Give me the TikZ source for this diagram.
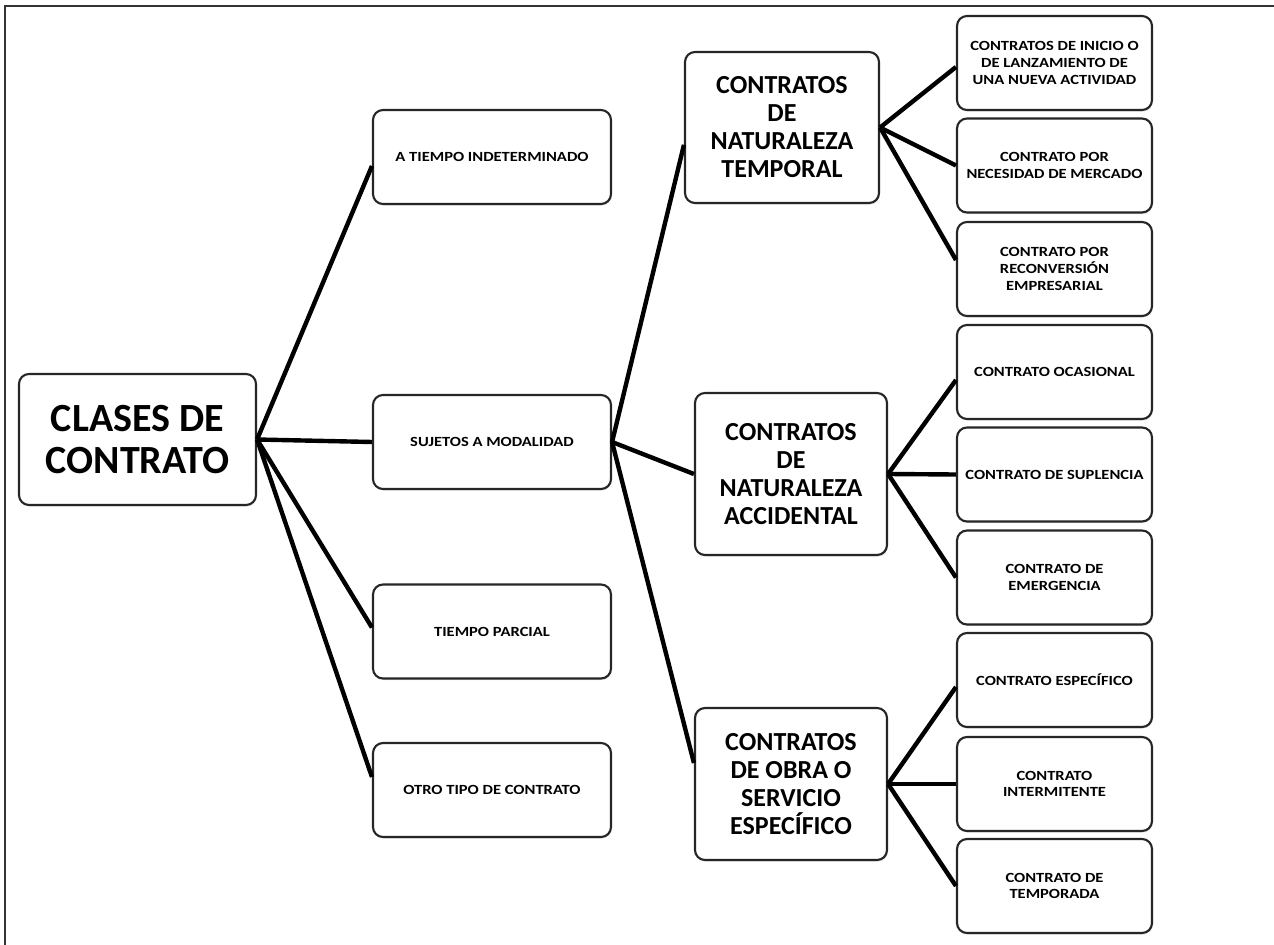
\documentclass[tikz,border=0pt]{standalone}
\usepackage{fontspec}
\setmainfont{Carlito}
\newfontfamily\smallf[FakeStretch=1.18]{Carlito}
\usetikzlibrary{shadows}
\begin{document}
\begin{tikzpicture}[x=0.75pt,y=-0.75pt,
  box/.style={draw=black!85, line width=1.6pt, rounded corners=7.5pt, fill=white, align=center, inner sep=1pt,
    drop shadow={shadow xshift=0.6pt, shadow yshift=-1.2pt, opacity=0.2}},
  rootbox/.style={box, minimum width=177.75pt, minimum height=98.25pt, font=\fontsize{30}{31.5}\selectfont\bfseries},
  midbox/.style={box, minimum width=178.5pt, minimum height=70.5pt, font=\smallf\fontsize{10.5}{12.5}\selectfont\bfseries},
  catbox/.style={box, minimum width=144pt, font=\fontsize{19.5}{21}\selectfont\bfseries},
  leafbox/.style={box, minimum width=146.25pt, minimum height=70.5pt, font=\smallf\fontsize{10.5}{12.5}\selectfont\bfseries},
  link/.style={line width=3.3pt, black}]
\useasboundingbox (0,0) rectangle (1274,945);
\draw[line width=1.5pt, black!80] (5,945) -- (5,6) -- (1274,6);

% root
\node[rootbox] (root) at (137.5,439.5) {CLASES DE\\CONTRATO};

% level 2
\node[midbox] (a) at (492,157) {A TIEMPO INDETERMINADO};
\node[midbox] (b) at (492,442) {SUJETOS A MODALIDAD};
\node[midbox] (c) at (492,631.5) {TIEMPO PARCIAL};
\node[midbox] (d) at (492,790) {OTRO TIPO DE CONTRATO};

% level 3
\node[catbox, minimum width=145.5pt, minimum height=113.25pt] (t) at (782,127.5) {CONTRATOS\\DE\\NATURALEZA\\TEMPORAL};
\node[catbox, minimum height=121.5pt] (acc) at (791,474) {CONTRATOS\\DE\\NATURALEZA\\ACCIDENTAL};
\node[catbox, minimum height=114pt] (obra) at (791,784) {CONTRATOS\\DE OBRA O\\SERVICIO\\ESPECÍFICO};

% level 4
\node[leafbox] (l1) at (1054.5,63) {CONTRATOS DE INICIO O\\DE LANZAMIENTO DE\\UNA NUEVA ACTIVIDAD};
\node[leafbox] (l2) at (1054.5,165.5) {CONTRATO POR\\NECESIDAD DE MERCADO};
\node[leafbox] (l3) at (1054.5,269) {CONTRATO POR\\RECONVERSIÓN\\EMPRESARIAL};
\node[leafbox] (l4) at (1054.5,372) {CONTRATO OCASIONAL};
\node[leafbox] (l5) at (1054.5,474.5) {CONTRATO DE SUPLENCIA};
\node[leafbox] (l6) at (1054.5,577.5) {CONTRATO DE\\EMERGENCIA};
\node[leafbox] (l7) at (1054.5,680) {CONTRATO ESPECÍFICO};
\node[leafbox] (l8) at (1054.5,784) {CONTRATO\\INTERMITENTE};
\node[leafbox] (l9) at (1054.5,886) {CONTRATO DE\\TEMPORADA};

% connectors
\draw[link] (root.east) -- ([yshift=-6.75pt]a.west);
\draw[link] (root.east) -- (b.west);
\draw[link] (root.east) -- ([yshift=3pt]c.west);
\draw[link] (root.east) -- ([yshift=9.75pt]d.west);

\draw[link] (b.east) -- ([yshift=-13pt]t.west);
\draw[link] (b.east) -- (acc.west);
\draw[link] (b.east) -- ([yshift=15.75pt]obra.west);

\draw[link] (t.east) -- ([yshift=-3pt]l1.west);
\draw[link] (t.east) -- (l2.west);
\draw[link] (t.east) -- ([yshift=6.75pt]l3.west);

\draw[link] (acc.east) -- ([yshift=-6pt]l4.west);
\draw[link] (acc.east) -- (l5.west);
\draw[link] (acc.east) -- (l6.west);

\draw[link] (obra.east) -- ([yshift=-5.25pt]l7.west);
\draw[link] (obra.east) -- (l8.west);
\draw[link] (obra.east) -- (l9.west);
\end{tikzpicture}
\end{document}
